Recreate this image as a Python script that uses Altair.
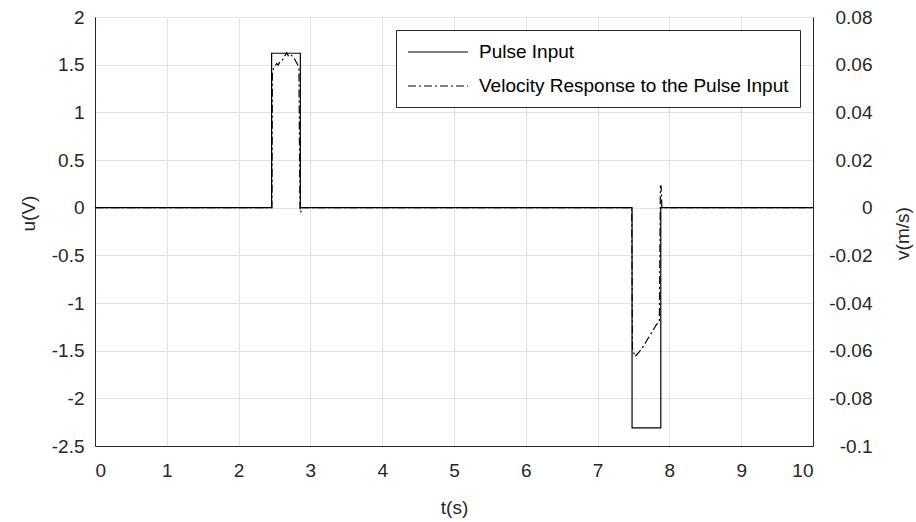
import altair as alt
import pandas as pd

# ---- data ----
series_names = ["Pulse Input", "Velocity Response to the Pulse Input"]

t_pulse = [0, 2.46, 2.46, 2.86, 2.86, 7.48, 7.48, 7.88, 7.88, 10]
u_pulse = [0, 0, 1.62, 1.62, 0, 0, -2.31, -2.31, 0, 0]

t_vel = [0, 2.465, 2.47, 2.50, 2.53, 2.55, 2.58, 2.61, 2.64, 2.67, 2.69, 2.71,
         2.74, 2.77, 2.80, 2.82, 2.84, 2.855, 2.865, 2.875, 2.89,
         7.475, 7.485, 7.52, 7.55, 7.58, 7.62, 7.66, 7.70, 7.74, 7.78, 7.82,
         7.86, 7.875, 7.885, 7.895, 10]
v_vel = [0, 0, 0.0575, 0.059, 0.0605, 0.0598, 0.0615, 0.062, 0.0635, 0.065, 0.0638, 0.0645,
         0.0638, 0.063, 0.0612, 0.0602, 0.058, 0, -0.002, 0, 0,
         0, -0.059, -0.0625, -0.0615, -0.0605, -0.059, -0.057, -0.055, -0.053, -0.051, -0.049,
         -0.048, 0.009, 0.009, 0, 0]

x_ticks = [0, 1, 2, 3, 4, 5, 6, 7, 8, 9, 10]
u_ticks = [2, 1.5, 1, 0.5, 0, -0.5, -1, -1.5, -2, -2.5]
v_ticks = [0.08, 0.06, 0.04, 0.02, 0, -0.02, -0.04, -0.06, -0.08, -0.1]

df_u = pd.DataFrame({"t": t_pulse, "u": u_pulse, "series": series_names[0],
                     "i": list(range(len(t_pulse)))})
df_v = pd.DataFrame({"t": t_vel, "v": v_vel, "series": series_names[1],
                     "i": list(range(len(t_vel)))})

FONT = "Liberation Sans"
TXT = "#262626"

x_enc = alt.X("t:Q", scale=alt.Scale(domain=[0, 10], nice=False, zero=False),
              axis=alt.Axis(values=x_ticks, title="t(s)", grid=True, ticks=False,
                            labelPadding=15, titleX=359, titleY=61,
                            titleBaseline="middle", labelExpr="'' + datum.value"))

dash_enc = alt.StrokeDash(
    "series:N",
    scale=alt.Scale(domain=series_names, range=[[1, 0], [8, 3, 2, 3]]),
    legend=alt.Legend(title=None, orient="top-right", offset=13,
                      strokeColor=TXT, fillColor="white", padding=11,
                      symbolType="M-1,0H5", symbolSize=400, symbolStrokeWidth=1.2,
                      symbolStrokeColor="black", labelFont=FONT, labelFontSize=19,
                      labelColor="black", labelLimit=600, labelOffset=50,
                      rowPadding=13, cornerRadius=0))

pulse = alt.Chart(df_u).mark_line(color="black", strokeWidth=1.2).encode(
    x=x_enc,
    y=alt.Y("u:Q", scale=alt.Scale(domain=[-2.5, 2], nice=False, zero=False),
            axis=alt.Axis(orient="left", values=u_ticks, title="u(V)", grid=True,
                          ticks=False, labelPadding=11, titleAngle=270,
                          titleX=-67, titleY=196, titleBaseline="middle",
                          labelExpr="'' + datum.value")),
    strokeDash=dash_enc,
    order=alt.Order("i:Q"),
)

vel = alt.Chart(df_v).mark_line(color="black", strokeWidth=1.2).encode(
    x=x_enc,
    y=alt.Y("v:Q", scale=alt.Scale(domain=[-0.1, 0.08], nice=False, zero=False),
            axis=alt.Axis(orient="right", values=v_ticks, title="v(m/s)", grid=False,
                          ticks=False, labelPadding=59, labelAlign="right",
                          titleAngle=270, titleX=89, titleY=216,
                          titleBaseline="middle", labelExpr="'' + datum.value")),
    strokeDash=dash_enc,
    order=alt.Order("i:Q"),
)

chart = alt.layer(pulse, vel).resolve_scale(y="independent").properties(
    width=718, height=429,
    autosize=alt.AutoSizeParams(type="none"),
    padding={"left": 95, "top": 17, "right": 103, "bottom": 76},
    background="white",
).configure_view(
    stroke=TXT, strokeWidth=1
).configure_axis(
    labelFont=FONT, labelFontSize=19, labelColor=TXT,
    titleFont=FONT, titleFontSize=19, titleFontWeight="normal", titleColor=TXT,
    domainColor=TXT, domainWidth=1, gridColor="#e3e3e3", gridWidth=1,
)

chart.save("out.html", embed_options={"renderer": "svg", "actions": False})
